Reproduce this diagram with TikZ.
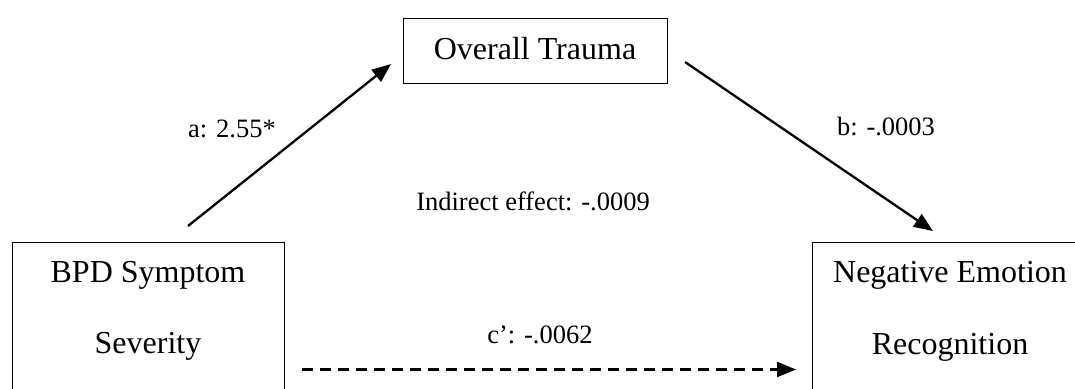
\documentclass[tikz,border=0pt]{standalone}
\usepackage{fontspec}
\setmainfont{Liberation Serif}
\usetikzlibrary{arrows.meta}
\begin{document}
\begin{tikzpicture}[x=1pt,y=-1pt,
  box/.style={draw, line width=1.3pt, inner sep=0pt, anchor=north west},
  big/.style={font=\fontsize{32}{38}\selectfont, inner sep=0pt, anchor=base},
  small/.style={font=\fontsize{26.5}{32}\selectfont, inner sep=0pt, anchor=base},
  arr/.style={line width=2.3pt, -{Triangle[length=19pt,width=15pt]}},
  darr/.style={arr, dash pattern=on 11pt off 7pt}]
\useasboundingbox (0,0) rectangle (1075,388);
\clip (0,0) rectangle (1075,388);
% boxes
\node[box, minimum width=264pt, minimum height=65pt] (trauma) at (403,18) {};
\node[box, minimum width=272pt, minimum height=200pt] (bpd) at (12,242) {};
\node[box, minimum width=280pt, minimum height=200pt] (neg) at (812,242) {};
% box texts
\node[big] (ttxt) at (535,59) {Overall Trauma};
\node[big] (btxt1) at (148,282) {BPD Symptom};
\node[big] (btxt2) at (148,353) {Severity};
\node[big] (ntxt1) at (950,282) {Negative Emotion};
\node[big] (ntxt2) at (950,354) {Recognition};
% connector end points
\coordinate (a0) at (188,226);
\coordinate (a1) at (391,64);
\coordinate (b0) at (685,62);
\coordinate (b1) at (933,231);
\coordinate (c0) at (302,369.5);
\coordinate (c1) at (796,369.5);
\draw[arr] (a0) -- (a1);
\draw[arr] (b0) -- (b1);
\draw[darr] (c0) -- (c1);
% labels
\node[small] (la) at (232,137) {a: 2.55*};
\node[small] (lb) at (886,135) {b: -.0003};
\node[small] (lind) at (533,210) {Indirect effect: -.0009};
\node[small] (lc) at (540,343) {c’: -.0062};
\end{tikzpicture}
\end{document}
